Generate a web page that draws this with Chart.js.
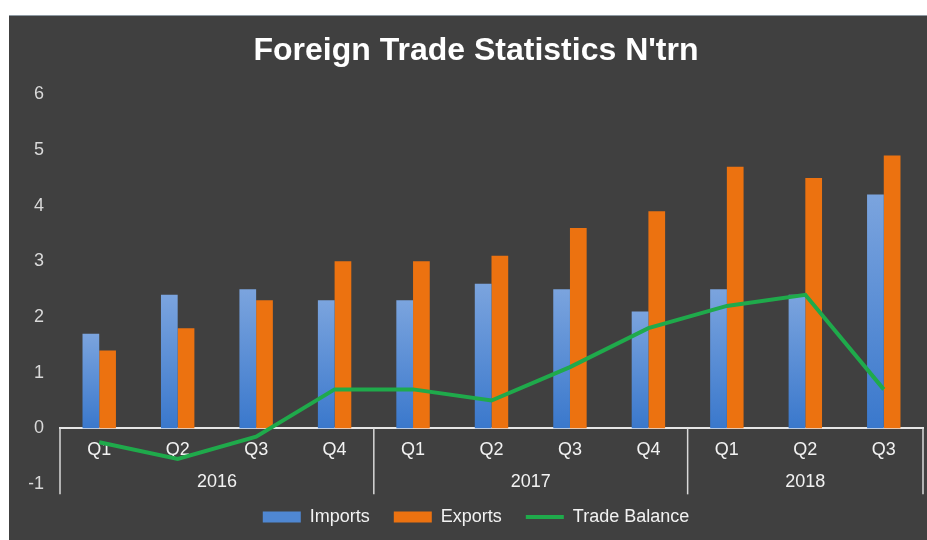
<!DOCTYPE html>
<html>
<head>
<meta charset="utf-8">
<script src="https://cdn.jsdelivr.net/npm/chart.js@4.4.1/dist/chart.umd.min.js"></script>
<style>
  html, body { margin: 0; padding: 0; background: #fff; overflow: hidden; width: 927px; height: 540px; }
  #wrap { position: absolute; left: 9px; top: 15px; width: 928px; height: 530px; background: #404040; border-top: 1px solid #8e9aa3; }
  #box { position: relative; width: 928px; height: 520px; }
</style>
</head>
<body>
<div id="wrap"><div id="box"><canvas id="chart"></canvas></div></div>
<script>
const quarters = ['Q1', 'Q2', 'Q3', 'Q4', 'Q1', 'Q2', 'Q3', 'Q4', 'Q1', 'Q2', 'Q3'];
const years = ['2016', '2016', '2016', '2016', '2017', '2017', '2017', '2017', '2018', '2018', '2018'];
const imports = [1.7, 2.4, 2.5, 2.3, 2.3, 2.6, 2.5, 2.1, 2.5, 2.4, 4.2];
const exportsVals = [1.4, 1.8, 2.3, 3.0, 3.0, 3.1, 3.6, 3.9, 4.7, 4.5, 4.9];
const tradeBalance = [-0.25, -0.55, -0.15, 0.7, 0.7, 0.5, 1.1, 1.8, 2.2, 2.4, 0.7];
const yTicks = [-1, 0, 1, 2, 3, 4, 5, 6];

const FONT = "'Liberation Sans', Arial, sans-serif";

// per-bar blue gradient, lighter at the top
function importsFill(ctx) {
    const chart = ctx.chart;
    if (!chart.chartArea || ctx.type !== 'data') return '#4f87d2';
    const y = chart.scales.y;
    const top = y.getPixelForValue(ctx.raw);
    const bottom = y.getPixelForValue(0);
    const g = chart.ctx.createLinearGradient(0, top, 0, bottom);
    g.addColorStop(0, '#7ba4de');
    g.addColorStop(1, '#3a78cc');
    return g;
}

// year group labels and separators under the quarter labels
const yearGroups = {
    id: 'yearGroups',
    afterDraw(chart) {
        const x = chart.scales.x;
        const y = chart.scales.y;
        const ctx = chart.ctx;
        const zero = y.getPixelForValue(0);
        const half = (x.getPixelForValue(1) - x.getPixelForValue(0)) / 2;
        const lineTop = zero;
        const lineBottom = zero + 66;
        ctx.save();
        ctx.strokeStyle = '#d9d9d9';
        ctx.lineWidth = 1.5;
        ctx.fillStyle = '#f2f2f2';
        ctx.font = '18px ' + FONT;
        ctx.textAlign = 'center';
        ctx.textBaseline = 'middle';
        let start = 0;
        for (let i = 1; i <= years.length; i++) {
            if (i === years.length || years[i] !== years[start]) {
                const left = x.getPixelForValue(start) - half;
                const right = x.getPixelForValue(i - 1) + half;
                ctx.beginPath();
                ctx.moveTo(left, lineTop);
                ctx.lineTo(left, lineBottom);
                ctx.stroke();
                if (i === years.length) {
                    ctx.beginPath();
                    ctx.moveTo(right, lineTop);
                    ctx.lineTo(right, lineBottom);
                    ctx.stroke();
                }
                ctx.fillText(years[start], (left + right) / 2, zero + 54);
                start = i;
            }
        }
        ctx.restore();
    }
};

new Chart(document.getElementById('chart'), {
    type: 'bar',
    data: {
        labels: quarters,
        datasets: [
            {
                label: 'Imports',
                data: imports,
                backgroundColor: importsFill,
                borderWidth: 0,
                barPercentage: 1,
                categoryPercentage: 0.426,
                order: 1
            },
            {
                label: 'Exports',
                data: exportsVals,
                backgroundColor: '#ec7210',
                borderWidth: 0,
                barPercentage: 1,
                categoryPercentage: 0.426,
                order: 1
            },
            {
                type: 'line',
                label: 'Trade Balance',
                data: tradeBalance,
                borderColor: '#1faa4b',
                backgroundColor: '#1faa4b',
                borderWidth: 4,
                pointRadius: 0,
                tension: 0,
                order: 0
            }
        ]
    },
    options: {
        responsive: true,
        maintainAspectRatio: false,
        animation: false,
        layout: { padding: { left: 20, right: 14, top: 0, bottom: 0 } },
        plugins: {
            title: {
                display: true,
                text: "Foreign Trade Statistics N'trn",
                color: '#ffffff',
                font: { family: FONT, size: 32, weight: 'bold' },
                padding: { top: 16, bottom: 24 }
            },
            legend: {
                position: 'bottom',
                labels: {
                    color: '#f2f2f2',
                    font: { family: FONT, size: 18 },
                    usePointStyle: true,
                    pointStyleWidth: 38,
                    boxHeight: 11,
                    padding: 24,
                    sort: (a, b) => a.datasetIndex - b.datasetIndex,
                    generateLabels(chart) {
                        const items = Chart.defaults.plugins.legend.labels.generateLabels(chart);
                        items.forEach((it) => {
                            if (it.datasetIndex === 2) {
                                it.pointStyle = 'line';
                                it.lineWidth = 4;
                                it.strokeStyle = '#1faa4b';
                            } else {
                                it.pointStyle = 'rect';
                                it.lineWidth = 0;
                                if (it.datasetIndex === 0) it.fillStyle = '#4f87d2';
                            }
                        });
                        return items;
                    }
                }
            },
            tooltip: { enabled: false }
        },
        scales: {
            x: {
                position: { y: 0 },
                grid: { display: false },
                border: { display: true, color: '#e6e6e6', width: 2 },
                ticks: {
                    color: '#f2f2f2',
                    font: { family: FONT, size: 18 },
                    padding: 3,
                    autoSkip: false,
                    maxRotation: 0
                }
            },
            y: {
                min: -1,
                max: 6,
                afterFit(scale) { scale.width = 31; },
                afterBuildTicks(scale) { scale.ticks = yTicks.map((v) => ({ value: v })); },
                grid: { display: false, drawTicks: false },
                border: { display: false },
                ticks: {
                    color: '#d9d9d9',
                    font: { family: FONT, size: 18 },
                    padding: 16
                }
            }
        }
    },
    plugins: [yearGroups]
});
</script>
</body>
</html>
